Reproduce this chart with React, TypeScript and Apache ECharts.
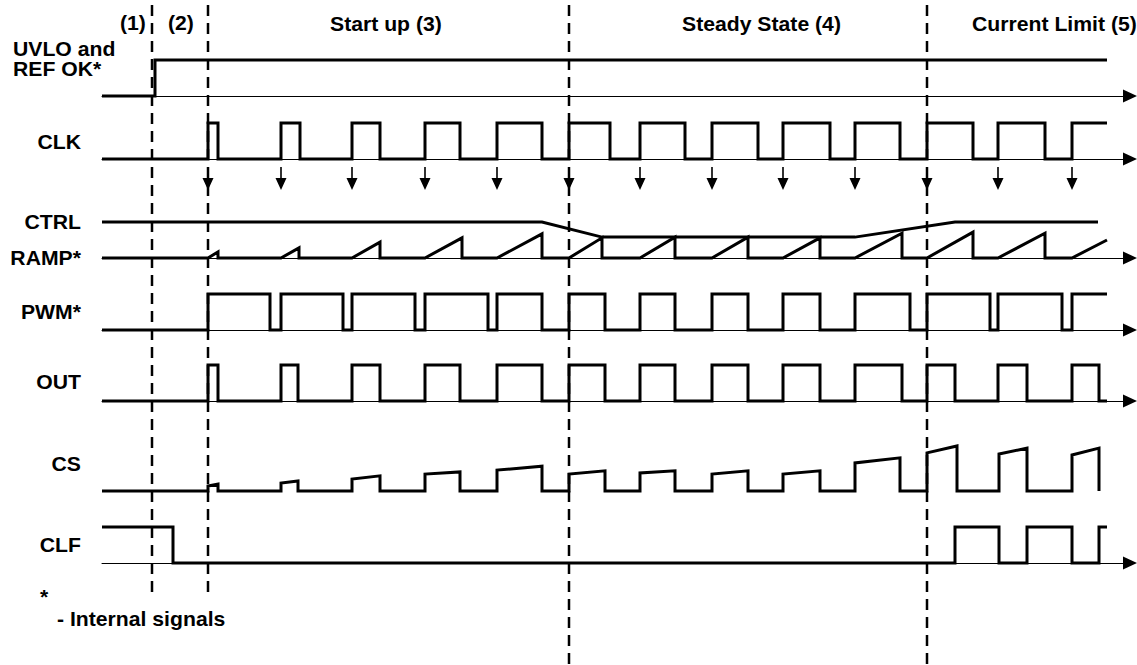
import { useEffect, useRef } from "react";
import * as echarts from "echarts";

// ---------- DATA (time units along the shared time axis, levels 0..1) ----------
const T_MAX = 1028;
const T_END = 1005;

const PHASE_BOUNDS = [50, 106, 467, 825];
const PHASE_LABELS = ["(1)", "(2)", "Start up (3)", "Steady State (4)", "Current Limit (5)"];
const SIGNAL_LABELS = ["CLK", "CTRL", "RAMP*", "PWM*", "OUT", "CS", "CLF"];

const UVLO_EDGES = [53];
const CLK_EDGES = [106, 116, 179, 198, 250, 278, 323, 358, 395, 440, 467, 508, 538, 583, 610, 656, 681, 728, 753, 798, 825, 871, 896, 943, 970];
const CLK_RISES = [106, 179, 250, 323, 395, 467, 538, 610, 681, 753, 825, 896, 970];
const PWM_EDGES = [106, 168, 179, 241, 250, 313, 323, 386, 395, 440, 467, 503, 538, 573, 610, 646, 681, 718, 753, 808, 825, 888, 896, 960, 970];
const OUT_EDGES = [106, 116, 179, 196, 250, 278, 323, 358, 395, 440, 467, 503, 538, 573, 610, 646, 681, 718, 753, 800, 825, 853, 896, 925, 970, 997];
const CLF_EDGES = [71, 853, 897, 925, 970, 997];

const CTRL_T = [0, 440, 500, 753, 853, 996];
const CTRL_V = [1, 1, 0.58, 0.58, 1, 1];

const RAMP_START = [106, 179, 250, 323, 395, 467, 538, 610, 681, 753, 825, 896, 970];
const RAMP_END = [116, 197, 278, 360, 440, 500, 573, 646, 718, 800, 871, 943, 1005];
const RAMP_PEAK = [0.17, 0.28, 0.44, 0.56, 0.67, 0.56, 0.58, 0.58, 0.56, 0.69, 0.72, 0.69, 0.5];

const CS_START = [106, 179, 250, 323, 395, 467, 538, 610, 681, 753, 825, 897, 970];
const CS_END = [116, 196, 278, 358, 440, 503, 573, 646, 718, 798, 855, 925, 997];
const CS_FROM = [0.14, 0.22, 0.33, 0.47, 0.58, 0.47, 0.5, 0.47, 0.47, 0.78, 1.06, 1.03, 1.0];
const CS_TO = [0.19, 0.28, 0.42, 0.53, 0.69, 0.56, 0.56, 0.56, 0.56, 0.92, 1.25, 1.19, 1.19];

// ---------- builders ----------
function stepWave(edges: number[], startLevel: number, tEnd: number) {
  const pts: number[][] = [[0, startLevel]];
  let lvl = startLevel;
  for (const e of edges) {
    pts.push([e, lvl]);
    lvl = 1 - lvl;
    pts.push([e, lvl]);
  }
  pts.push([tEnd, lvl]);
  return pts;
}

function rampWave() {
  const pts: number[][] = [[0, 0]];
  RAMP_START.forEach((s, i) => {
    pts.push([s, 0], [RAMP_END[i], RAMP_PEAK[i]]);
    if (RAMP_END[i] < T_END) pts.push([RAMP_END[i], 0]);
  });
  return pts;
}

function csWave() {
  const pts: number[][] = [[0, 0]];
  CS_START.forEach((s, i) => {
    pts.push([s, 0], [s, CS_FROM[i]], [CS_END[i], CS_TO[i]], [CS_END[i], 0]);
  });
  return pts;
}

// ---------- layout ----------
const GRID_LEFT = 102;
const GRID_WIDTH = 1028;
const LANE_H = 36;
const LANES = [
  { top: 60, axis: true }, // UVLO
  { top: 123, axis: true }, // CLK
  { top: 222, axis: true }, // CTRL / RAMP
  { top: 294, axis: true }, // PWM
  { top: 365, axis: true }, // OUT
  { top: 455, axis: false }, // CS
  { top: 527, axis: true }, // CLF
];
const OVERLAY = LANES.length;
const LABEL_Y = [142, 222, 258, 312, 382, 464, 545];
const HEADER_X = [120, 168, 330, 682, 972];
const FONT = 'Arial, "Liberation Sans", sans-serif';

function txt(text: string, x: number, y: number, align: string) {
  return {
    type: "text",
    x,
    y,
    scaleX: 1.06,
    style: {
      text,
      x: 0,
      y: 0,
      fill: "#000",
      fontSize: 20,
      fontWeight: "bold",
      fontFamily: FONT,
      textAlign: align,
      textVerticalAlign: "middle",
    },
  };
}

export default function App() {
  const ref = useRef<HTMLDivElement>(null);
  useEffect(() => {
    if (!ref.current) return;
    const chart = echarts.init(ref.current, undefined, { renderer: "svg" });

    const grids: any[] = LANES.map((l) => ({ left: GRID_LEFT, width: GRID_WIDTH, top: l.top, height: LANE_H }));
    grids.push({ left: GRID_LEFT, width: GRID_WIDTH, top: 0, height: 665 });

    const xAxes: any[] = grids.map((_, i) => ({
      type: "value",
      gridIndex: i,
      min: 0,
      max: T_MAX,
      axisLabel: { show: false },
      axisTick: { show: false },
      splitLine: { show: false },
      axisLine: {
        show: i < OVERLAY && LANES[i].axis,
        onZero: false,
        symbol: ["none", "triangle"],
        symbolSize: [13, 14],
        lineStyle: { color: "#000", width: 1 },
      },
    }));
    const yAxes: any[] = grids.map((_, i) => ({
      type: "value",
      gridIndex: i,
      min: 0,
      max: i < OVERLAY ? 1 : 665,
      inverse: i === OVERLAY,
      show: false,
    }));

    const sig = (data: number[][], lane: number) => ({
      type: "line",
      xAxisIndex: lane,
      yAxisIndex: lane,
      data,
      showSymbol: false,
      symbol: "none",
      clip: false,
      silent: true,
      lineStyle: { color: "#000", width: 3, join: "miter", cap: "butt" },
    });

    const series: any[] = [
      sig(stepWave(UVLO_EDGES, 0, T_END), 0),
      sig(stepWave(CLK_EDGES, 0, T_END), 1),
      sig(CTRL_T.map((t, i) => [t, CTRL_V[i]]), 2),
      sig(rampWave(), 2),
      sig(stepWave(PWM_EDGES, 0, T_END), 3),
      sig(stepWave(OUT_EDGES, 0, T_END), 4),
      sig(csWave(), 5),
      sig(stepWave(CLF_EDGES, 1, T_END), 6),
      ...PHASE_BOUNDS.map((t, i) => ({
        type: "line",
        xAxisIndex: OVERLAY,
        yAxisIndex: OVERLAY,
        data: [
          [t, 5],
          [t, i < 2 ? 598 : 665],
        ],
        showSymbol: false,
        symbol: "none",
        silent: true,
        lineStyle: { color: "#000", width: 2.5, type: [11, 7] },
      })),
      {
        type: "scatter",
        xAxisIndex: OVERLAY,
        yAxisIndex: OVERLAY,
        data: CLK_RISES.map((t) => [t, 178.5]),
        symbol: "path://M4.7,0 L6.3,0 L6.3,11 L11,11 L5.5,23 L0,11 L4.7,11 Z",
        symbolSize: [11, 23],
        silent: true,
        itemStyle: { color: "#000", opacity: 1 },
      },
    ];

    const graphics: any[] = [
      txt("UVLO and", 13, 49, "left"),
      txt("REF OK*", 13, 69, "left"),
      ...SIGNAL_LABELS.map((s, i) => txt(s, 81, LABEL_Y[i], "right")),
      txt("*", 40, 597, "left"),
      txt("- Internal signals", 57, 619, "left"),
      ...PHASE_LABELS.map((s, i) => txt(s, HEADER_X[i], i < 2 ? 23 : 24, "left")),
    ];

    chart.setOption({
      animation: false,
      backgroundColor: "#fff",
      grid: grids,
      xAxis: xAxes,
      yAxis: yAxes,
      series,
      graphic: graphics,
    });
    return () => chart.dispose();
  }, []);

  return <div ref={ref} style={{ position: "fixed", left: 0, top: 0, width: 1137, height: 665 }} />;
}
